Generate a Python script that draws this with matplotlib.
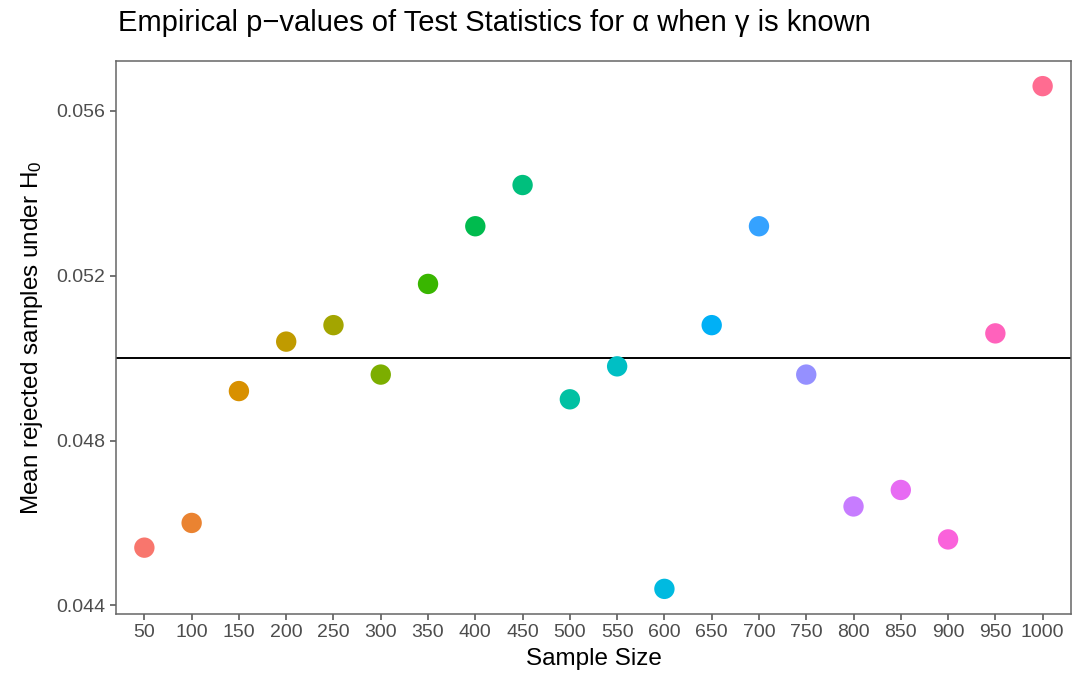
import matplotlib
matplotlib.use('Agg')
import matplotlib.pyplot as plt
import numpy as np

plt.rcParams['font.family'] = ['Liberation Sans', 'DejaVu Sans']
plt.rcParams['mathtext.fontset'] = 'custom'
plt.rcParams['mathtext.rm'] = 'Liberation Sans'

# Data
sample_sizes = [50, 100, 150, 200, 250, 300, 350, 400, 450, 500,
                550, 600, 650, 700, 750, 800, 850, 900, 950, 1000]
mean_rejected = [0.0454, 0.0460, 0.0492, 0.0504, 0.0508, 0.0496, 0.0518, 0.0532, 0.0542, 0.0490,
                 0.0498, 0.0444, 0.0508, 0.0532, 0.0496, 0.0464, 0.0468, 0.0456, 0.0506, 0.0566]
nominal_level = 0.05

# ggplot default hue palette for 20 levels
colors = ["#F8766D", "#EA8331", "#D89000", "#C09B00", "#A3A500", "#7CAE00", "#39B600",
          "#00BB4E", "#00BF7D", "#00C1A3", "#00BFC4", "#00BAE0", "#00B0F6", "#35A2FF",
          "#9590FF", "#C77CFF", "#E76BF3", "#FA62DB", "#FF62BC", "#FF6C91"]

fig = plt.figure(figsize=(10.84, 6.86), dpi=100)
ax = fig.add_axes([116 / 1084, 1 - 614 / 686, (1071 - 116) / 1084, (614 - 61) / 686])

x = np.arange(1, len(sample_sizes) + 1)
ax.axhline(nominal_level, color='black', lw=1.4, zorder=1)
ax.scatter(x, mean_rejected, c=colors, s=215, edgecolors='none', zorder=2)

ax.set_xlim(0.4, len(sample_sizes) + 0.6)
lo, hi = min(mean_rejected), max(mean_rejected)
pad = (hi - lo) * 0.05
ax.set_ylim(lo - pad, hi + pad)

ax.set_xticks(x)
ax.set_xticklabels([str(s) for s in sample_sizes])
ax.set_yticks([0.044, 0.048, 0.052, 0.056])
ax.set_yticklabels(['0.044', '0.048', '0.052', '0.056'])

for sp in ax.spines.values():
    sp.set_color('#666666')
    sp.set_linewidth(1.1)
ax.tick_params(axis='both', colors='#4D4D4D', labelsize=14, length=4.5, width=1.1,
               labelcolor='#4D4D4D', pad=3)

ax.set_xlabel('Sample Size', fontsize=17.5, labelpad=5)
ax.set_ylabel(r'Mean rejected samples under $\mathregular{H_0}$', fontsize=17.5, labelpad=8)

fig.text(118 / 1084, 1 - 23 / 686, 'Empirical p\u2212values of Test Statistics for \u03b1 when \u03b3 is known',
         fontsize=21, ha='left', va='center')

fig.savefig('out.png', dpi=100)
